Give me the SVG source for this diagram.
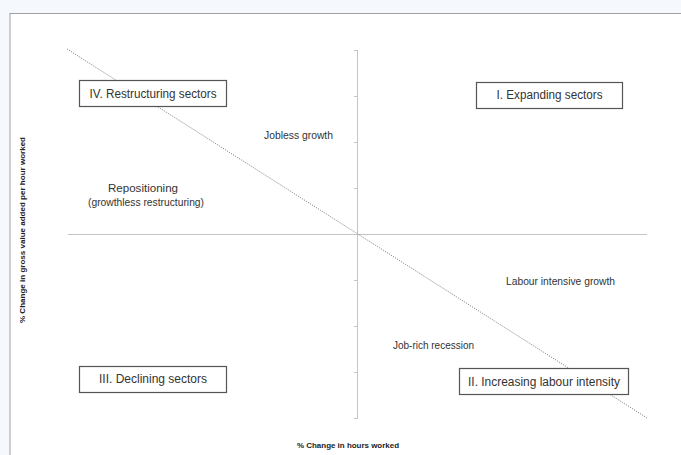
<svg xmlns="http://www.w3.org/2000/svg" width="681" height="455" viewBox="0 0 681 455">
<style>
text{font-family:"Liberation Sans",Arial,sans-serif;fill:#333;}
.box{fill:#fff;stroke:#555;stroke-width:1.2;}
.bt{font-size:12.5px;text-anchor:middle;}
.lb{font-size:10px;text-anchor:middle;}
.ax{font-size:8px;font-weight:bold;text-anchor:middle;fill:#222;}
.axis{stroke:#c4c4c4;stroke-width:1;fill:none;}
</style>
<rect x="0" y="0" width="681" height="455" fill="#f5f9fd"/>
<rect x="10" y="13.5" width="680" height="450" fill="#fff" stroke="#a0a0a0" stroke-width="1"/>
<g id="connectors">
<line class="axis" x1="357.5" y1="50" x2="357.5" y2="419"/>
<line class="axis" x1="68" y1="234.5" x2="647" y2="234.5"/>
<path class="axis" d="M354 50.5H357.5M354 96.5H357.5M354 142.5H357.5M354 188.5H357.5M354 280.5H357.5M354 326.5H357.5M354 372.5H357.5M354 418.5H357.5"/>
<line x1="67" y1="49" x2="647" y2="418" stroke="#8a8a8a" stroke-width="1" stroke-dasharray="1.2,1.2"/>
</g>
<g id="node-iv">
<rect class="box" x="79.5" y="80.5" width="147" height="26"/>
<text class="bt" x="153" y="97.5" textLength="127" lengthAdjust="spacingAndGlyphs">IV. Restructuring sectors</text>
</g>
<g id="node-i">
<rect class="box" x="476.5" y="82.5" width="146" height="26"/>
<text class="bt" x="549.5" y="99" textLength="106" lengthAdjust="spacingAndGlyphs">I. Expanding sectors</text>
</g>
<g id="node-iii">
<rect class="box" x="79.5" y="366.5" width="147" height="26"/>
<text class="bt" x="153" y="383" textLength="108" lengthAdjust="spacingAndGlyphs">III. Declining sectors</text>
</g>
<g id="node-ii">
<rect class="box" x="459.5" y="368.5" width="169" height="26"/>
<text class="bt" x="544" y="385.5" textLength="152" lengthAdjust="spacingAndGlyphs">II. Increasing labour intensity</text>
</g>
<g id="labels">
<text class="lb" x="298.5" y="139" textLength="69" lengthAdjust="spacingAndGlyphs">Jobless growth</text>
<text class="lb" x="143" y="192" textLength="70" lengthAdjust="spacingAndGlyphs">Repositioning</text>
<text class="lb" x="146" y="206" textLength="116" lengthAdjust="spacingAndGlyphs">(growthless restructuring)</text>
<text class="lb" x="560.5" y="285" textLength="109" lengthAdjust="spacingAndGlyphs">Labour intensive growth</text>
<text class="lb" x="433.5" y="349" textLength="81" lengthAdjust="spacingAndGlyphs">Job-rich recession</text>
<text class="ax" x="348" y="448" textLength="102" lengthAdjust="spacingAndGlyphs">% Change in hours worked</text>
<text class="ax" transform="translate(25,230) rotate(-90)" x="0" y="0" textLength="186" lengthAdjust="spacingAndGlyphs">% Change in gross value added per hour worked</text>
</g>
</svg>
